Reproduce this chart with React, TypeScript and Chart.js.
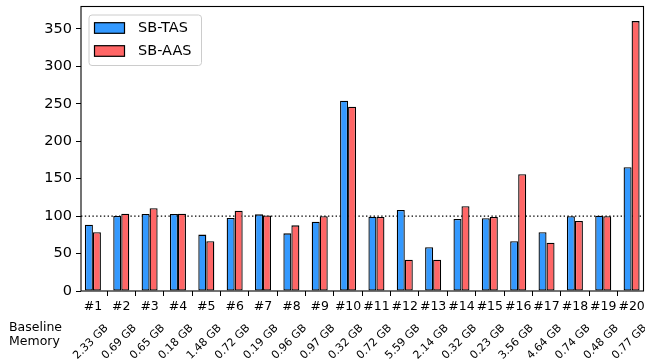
import { useEffect, useRef } from 'react';
import { Chart, registerables } from 'chart.js';

Chart.register(...registerables);

// Workloads on the x axis
const categories = ['#1', '#2', '#3', '#4', '#5', '#6', '#7', '#8', '#9', '#10', '#11', '#12', '#13', '#14', '#15', '#16', '#17', '#18', '#19', '#20'];

// Baseline memory of each workload, shown under its label
const baselineMemory = ['2.33 GB', '0.69 GB', '0.65 GB', '0.18 GB', '1.48 GB', '0.72 GB', '0.19 GB', '0.96 GB', '0.97 GB', '0.32 GB', '0.72 GB', '5.59 GB', '2.14 GB', '0.32 GB', '0.23 GB', '3.56 GB', '4.64 GB', '0.74 GB', '0.48 GB', '0.77 GB'];

// Series values
const sbTas = [88.6, 100.2, 103, 102.9, 75.3, 97.5, 102.4, 77, 92.6, 254.2, 99.3, 108.2, 58.4, 96.2, 97.1, 66.4, 78.4, 99.8, 100.6, 165.2];
const sbAas = [78.4, 103.3, 110.5, 103.3, 66.4, 107.3, 101, 87.7, 99.8, 246.2, 99, 41.8, 41.8, 113.1, 99, 155.9, 64.5, 93.5, 99.8, 360.5];

// Y axis
const yTicks = [0, 50, 100, 150, 200, 250, 300, 350];
const yMax = 380;
const referenceLevel = 100;

const seriesNames = ['SB-TAS', 'SB-AAS'];
const seriesColors = ['#3399ff', '#ff6666'];

const FONT = "'DejaVu Sans', sans-serif";

const decorations = {
  id: 'decorations',
  beforeDatasetsDraw(chart: any) {
    const { ctx, chartArea, scales } = chart;
    const y = scales.y.getPixelForValue(referenceLevel);
    ctx.save();
    ctx.strokeStyle = '#000';
    ctx.lineWidth = 1.4;
    ctx.setLineDash([1.4, 2.4]);
    ctx.beginPath();
    ctx.moveTo(chartArea.left, y);
    ctx.lineTo(chartArea.right, y);
    ctx.stroke();
    ctx.restore();
  },
  afterDatasetsDraw(chart: any) {
    const { ctx, chartArea } = chart;
    ctx.save();
    ctx.strokeStyle = '#000';
    ctx.lineWidth = 1.1;
    ctx.strokeRect(chartArea.left, chartArea.top, chartArea.right - chartArea.left, chartArea.bottom - chartArea.top);
    ctx.restore();
  },
  afterDraw(chart: any) {
    const { ctx, scales, chartArea } = chart;
    ctx.save();

    // legend
    const lx = chartArea.left + 8;
    const ly = chartArea.top + 8.5;
    const lw = 112.5;
    const lh = 50.5;
    ctx.beginPath();
    ctx.roundRect(lx, ly, lw, lh, 3);
    ctx.fillStyle = 'rgba(255,255,255,0.8)';
    ctx.fill();
    ctx.strokeStyle = '#cccccc';
    ctx.lineWidth = 1;
    ctx.stroke();
    chart.data.datasets.forEach((ds: any, i: number) => {
      const cy = ly + 13 + i * 23;
      ctx.fillStyle = ds.backgroundColor;
      ctx.fillRect(lx + 5.5, cy - 5.3, 30, 10.6);
      ctx.strokeStyle = '#000';
      ctx.lineWidth = 1.2;
      ctx.strokeRect(lx + 5.5, cy - 5.3, 30, 10.6);
      ctx.fillStyle = '#000';
      ctx.font = `14.5px ${FONT}`;
      ctx.textAlign = 'left';
      ctx.textBaseline = 'middle';
      ctx.fillText(ds.label, lx + 49, cy + 0.5);
    });

    // baseline memory labels, rotated
    ctx.fillStyle = '#000';
    ctx.font = `11px ${FONT}`;
    ctx.textAlign = 'center';
    ctx.textBaseline = 'middle';
    baselineMemory.forEach((txt, i) => {
      const x = scales.x.getPixelForValue(i) - 2;
      ctx.save();
      ctx.translate(x, 342);
      ctx.rotate(-Math.PI / 4);
      ctx.fillText(txt, 0, 0);
      ctx.restore();
    });

    // row title
    ctx.font = `12.5px ${FONT}`;
    ctx.textAlign = 'left';
    ctx.textBaseline = 'alphabetic';
    ctx.fillText('Baseline', 9, 331);
    ctx.fillText('Memory', 9, 345);

    ctx.restore();
  },
};

export default function App() {
  const ref = useRef<HTMLCanvasElement>(null);

  useEffect(() => {
    if (!ref.current) return;
    const chart = new Chart(ref.current, {
      type: 'bar',
      data: {
        datasets: [
          {
            label: seriesNames[0],
            data: sbTas.map((v, i) => ({ x: i, y: v })),
            backgroundColor: seriesColors[0],
            borderColor: '#000',
            borderWidth: 1.3,
            borderSkipped: false,
          },
          {
            label: seriesNames[1],
            data: sbAas.map((v, i) => ({ x: i, y: v })),
            backgroundColor: seriesColors[1],
            borderColor: '#000',
            borderWidth: 1.3,
            borderSkipped: false,
          },
        ],
      },
      options: {
        responsive: false,
        animation: false,
        devicePixelRatio: 1,
        events: [],
        categoryPercentage: 0.565,
        barPercentage: 1,
        layout: { padding: { left: 0, right: 1.5, top: 6.5, bottom: 43 } },
        plugins: {
          legend: { display: false },
          tooltip: { enabled: false },
        },
        scales: {
          x: {
            type: 'linear',
            min: -0.42,
            max: 19.42,
            offset: false,
            afterBuildTicks: (s: any) => {
              s.ticks = categories.map((_, i) => ({ value: i }));
            },
            afterFit: (s: any) => {
              s.height = 30;
              s.paddingLeft = 0;
              s.paddingRight = 0;
              s.paddingTop = 0;
              s.paddingBottom = 0;
            },
            ticks: {
              autoSkip: false,
              maxRotation: 0,
              minRotation: 0,
              padding: 3,
              color: '#000',
              font: { family: FONT, size: 12.5 },
              callback: (v: any) => categories[v],
            },
            grid: {
              drawOnChartArea: false,
              drawTicks: true,
              tickLength: 5,
              color: '#000',
            },
            border: { display: false },
          },
          y: {
            type: 'linear',
            min: 0,
            max: yMax,
            afterBuildTicks: (s: any) => {
              s.ticks = yTicks.map((v) => ({ value: v }));
            },
            afterFit: (s: any) => {
              s.width = 81;
              s.paddingLeft = 0;
              s.paddingRight = 0;
              s.paddingTop = 0;
              s.paddingBottom = 0;
            },
            ticks: {
              padding: 4,
              color: '#000',
              font: { family: FONT, size: 14.5 },
            },
            grid: {
              drawOnChartArea: false,
              drawTicks: true,
              tickLength: 5,
              color: '#000',
            },
            border: { display: false },
          },
        },
      },
      plugins: [decorations],
    });
    return () => chart.destroy();
  }, []);

  return (
    <div style={{ position: 'absolute', left: 0, top: 0, width: 645, height: 364, background: '#fff' }}>
      <canvas ref={ref} width={645} height={364} />
    </div>
  );
}
